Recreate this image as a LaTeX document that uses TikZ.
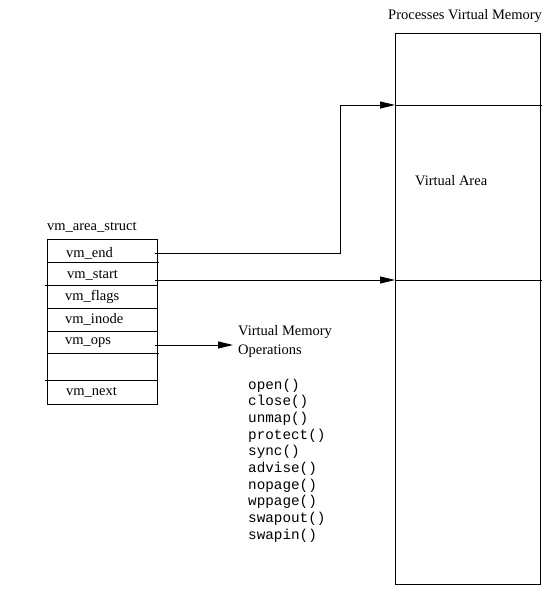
\documentclass[tikz,border=0pt]{standalone}
\usepackage{fontspec}
\setmainfont{Liberation Serif}
\setmonofont{Liberation Mono}
\usetikzlibrary{arrows.meta}
\begin{document}
\begin{tikzpicture}[x=1pt,y=-1pt,
  ln/.style={line width=0.9pt},
  arr/.style={ln,-{Triangle[length=15pt,width=7pt]}},
  lbl/.style={anchor=base west,inner sep=0pt,font=\fontsize{14.5}{16.7}\selectfont},
  fld/.style={lbl},
  op/.style={anchor=base west,inner sep=0pt,font=\ttfamily\fontsize{14.3}{16.7}\selectfont}]
\useasboundingbox (0,0) rectangle (552,596);
% struct box
\draw[ln] (47,239) rectangle (157,404);
\draw[ln] (47,262) -- (159,262);
\draw[ln] (45,285) -- (157,285);
\draw[ln] (47,308) -- (157,308);
\draw[ln] (47,331) -- (157,331);
\draw[ln] (47,353) -- (159,353);
\draw[ln] (45,380) -- (157,380);
\node[lbl] (title) at (47,230) {vm\_area\_struct};
\node[fld] (fend) at (66,257) {vm\_end};
\node[fld] (fstart) at (67,278) {vm\_start};
\node[fld] (fflags) at (65,300) {vm\_flags};
\node[fld] (finode) at (65,323) {vm\_inode};
\node[fld] (fops) at (65,344) {vm\_ops};
\node[fld] (fnext) at (66,395) {vm\_next};
% memory box
\node[draw,ln,minimum width=145pt,minimum height=551pt,inner sep=0pt,anchor=north west] (mem) at (395,33) {};
\node[lbl] (memt) at (388,20) {Processes Virtual Memory};
\node[lbl] (va) at (415,185) {Virtual Area};
\coordinate (mtop) at (395,105);
\coordinate (mtopr) at (542,105);
\coordinate (mbot) at (395,280);
\coordinate (mbotr) at (542,280);
\draw[ln] (mtop) -- (mtopr);
\draw[ln] (mbot) -- (mbotr);
% connectors
\coordinate (cend) at (155,253);
\coordinate (cstart) at (155,280);
\coordinate (cops) at (155,345);
\coordinate (bend) at (340,253);
\draw[arr] (cend) -- (bend) |- (mtop);
\draw[arr] (cstart) -- (mbot);
\coordinate (opsin) at (233,345);
\draw[arr] (cops) -- (opsin);
% operations
\node[lbl] (vmo1) at (238,335) {Virtual Memory};
\node[lbl] (vmo2) at (238,354) {Operations};
\foreach \t [count=\i from 0] in {open(),close(),unmap(),protect(),sync(),advise(),nopage(),wppage(),swapout(),swapin()}{
  \node[op] (op\i) at (248,389+16.67*\i) {\t};
}
\end{tikzpicture}
\end{document}
